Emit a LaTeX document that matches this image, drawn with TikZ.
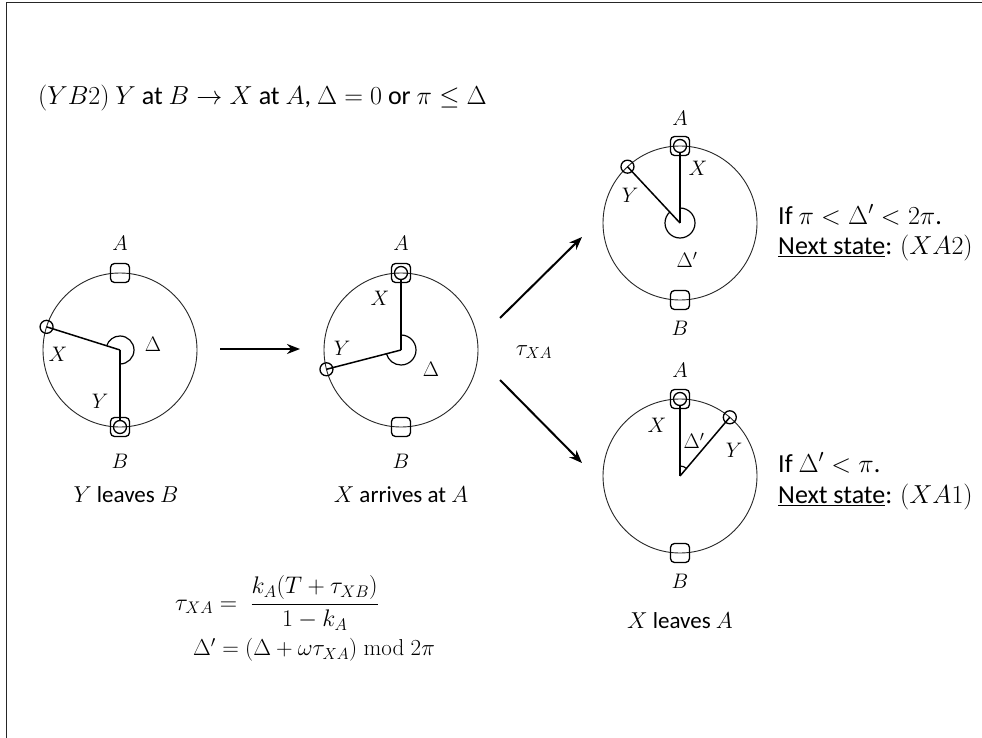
\RequirePackage{fix-cm}
\documentclass[tikz,border=0pt]{standalone}
\usepackage[no-math]{fontspec}
\setmainfont{Carlito}
\usetikzlibrary{arrows.meta,calc}
\begin{document}
\begin{tikzpicture}[x=1pt,y=1pt,
  frameline/.style={draw=black!85, line width=1.5pt},
  ring/.style={draw=black!85, line width=0.9pt},
  spoke/.style={draw=black, line width=1.5pt},
  anglearc/.style={draw=black, line width=1.2pt},
  station/.style={draw, line width=1.3pt, rounded corners=4pt, minimum size=19pt, inner sep=0pt},
  train/.style={draw, circle, line width=1.3pt, minimum size=13pt, inner sep=0pt},
  lbl/.style={font=\fontsize{21}{25}\selectfont, inner sep=0pt},
  txt/.style={font=\fontsize{23}{27}\selectfont, inner sep=0pt},
  side/.style={font=\fontsize{26}{30}\selectfont, inner sep=0pt, anchor=west},
  flow/.style={-{Stealth[length=13pt,width=10pt]}, line width=2pt}
]
\useasboundingbox (0,0) rectangle (982,-738);
% frame
\draw[frameline] (6.5,-738) -- (6.5,-2.5) -- (982,-2.5);

% title
\node[txt, font=\fontsize{26}{30}\selectfont, anchor=west] (title) at (38,-98)
  {$(YB2)$ $Y$ at $B\rightarrow X$ at $A$, $\Delta=0$ or $\pi\leq\Delta$};

% ---------- circle 1 : Y leaves B ----------
\coordinate (c1) at (120,-350);
\draw[ring] (c1) circle (77);
\node[station] (a1) at (120,-273) {};
\node[station] (b1) at (120,-427) {};
\node[train] (x1) at ($(c1)+(162.5:77)$) {};
\node[train] (y1) at (b1) {};
\draw[spoke] (c1) -- (x1.center);
\draw[spoke] (c1) -- (y1.north);
\draw[anglearc] (c1) ++(-90:14) arc (-90:162.5:14);
\node[lbl] (la1) at (120,-243) {$A$};
\node[lbl] (lb1) at (120,-461) {$B$};
\node[lbl] (lx1) at (58,-354) {$X$};
\node[lbl] (ly1) at (100,-401) {$Y$};
\node[lbl] (ld1) at (153,-344) {$\Delta$};
\node[txt] (cap1) at (126,-495) {$Y$ leaves $B$};

% ---------- circle 2 : X arrives at A ----------
\coordinate (c2) at (401,-350);
\draw[ring] (c2) circle (77);
\node[station] (a2) at (401,-273) {};
\node[station] (b2) at (401,-427) {};
\node[train] (x2) at (a2) {};
\node[train] (y2) at ($(c2)+(194.5:77)$) {};
\draw[spoke] (c2) -- (x2.south);
\draw[spoke] (c2) -- (y2.center);
\draw[anglearc] (c2) ++(90:15) arc (90:-165.5:15);
\node[lbl] (la2) at (401,-243) {$A$};
\node[lbl] (lb2) at (401,-461) {$B$};
\node[lbl] (lx2) at (380,-298) {$X$};
\node[lbl] (ly2) at (342,-348) {$Y$};
\node[lbl] (ld2) at (431,-369) {$\Delta$};
\node[txt] (cap2) at (401,-495) {$X$ arrives at $A$};

% ---------- circle 3 : pi < Delta' < 2pi ----------
\coordinate (c3) at (680,-223);
\draw[ring] (c3) circle (77);
\node[station] (a3) at (680,-146) {};
\node[station] (b3) at (680,-300) {};
\node[train] (x3) at (a3) {};
\node[train] (y3) at ($(c3)+(133:77)$) {};
\draw[spoke] (c3) -- (x3.south);
\draw[spoke] (c3) -- (y3.center);
\draw[anglearc] (c3) ++(90:15) arc (90:-227:15);
\node[lbl] (la3) at (680,-118) {$A$};
\node[lbl] (lb3) at (680,-328) {$B$};
\node[lbl] (lx3) at (698,-168) {$X$};
\node[lbl] (ly3) at (630,-195) {$Y$};
\node[lbl] (ld3) at (687,-260) {$\Delta'$};
\node[side] (if3) at (778,-215) {If $\pi<\Delta'<2\pi$.};
\node[side] (ns3) at (778,-248) {\underline{Next state}: $(XA2)$};

% ---------- circle 4 : Delta' < pi ----------
\coordinate (c4) at (680,-476);
\draw[ring] (c4) circle (77);
\node[station] (a4) at (680,-399) {};
\node[station] (b4) at (680,-553) {};
\node[train] (x4) at (a4) {};
\node[train] (y4) at ($(c4)+(49.7:77)$) {};
\draw[spoke] (c4) -- (x4.south);
\draw[spoke] (c4) -- (y4.center);
\draw[anglearc] (c4) ++(90:10) arc (90:49.7:10);
\node[lbl] (la4) at (680,-370) {$A$};
\node[lbl] (lb4) at (680,-581) {$B$};
\node[lbl] (lx4) at (657,-425) {$X$};
\node[lbl] (ly4) at (734,-450) {$Y$};
\node[lbl] (ld4) at (694,-441) {$\Delta'$};
\node[txt] (cap4) at (680,-621) {$X$ leaves $A$};
\node[side] (if4) at (778,-463) {If $\Delta'<\pi$.};
\node[side] (ns4) at (778,-497) {\underline{Next state}: $(XA1)$};

% ---------- arrows ----------
\coordinate (p1s) at (220,-349);
\coordinate (p1e) at (300,-349);
\coordinate (p2s) at (500,-318);
\coordinate (p2e) at (582,-237);
\coordinate (p3s) at (500,-380);
\coordinate (p3e) at (582,-463);
\draw[flow] (p1s) -- (p1e);
\draw[flow] (p2s) -- (p2e);
\draw[flow] (p3s) -- (p3e);
\node[lbl, font=\fontsize{23}{27}\selectfont] (tau) at (534,-352) {$\tau_{XA}$};

% ---------- formulas ----------
\node[txt, font=\fontsize{24}{28}\selectfont, anchor=west] (f1) at (175,-603)
  {$\displaystyle \tau_{XA}=\;\frac{k_A(T+\tau_{XB})}{1-k_A}$};
\node[txt, anchor=west] (f2) at (193,-650)
  {$\Delta'=(\Delta+\omega\tau_{XA})\bmod 2\pi$};
\end{tikzpicture}
\end{document}
